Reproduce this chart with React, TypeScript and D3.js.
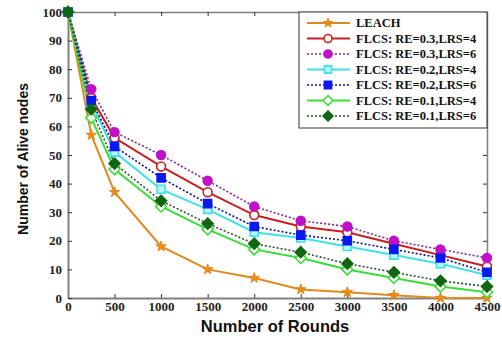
import { useEffect, useRef } from "react";
import * as d3 from "d3";

const rounds = [0, 250, 500, 1000, 1500, 2000, 2500, 3000, 3500, 4000, 4500];
const leach = [100, 57, 37, 18, 10, 7, 3, 2, 1, 0, 0];
const re3lrs4 = [100, 70, 56, 46, 37, 29, 25, 23, 19, 15, 11];
const re3lrs6 = [100, 73, 58, 50, 41, 32, 27, 25, 20, 17, 14];
const re2lrs4 = [100, 68, 51, 38, 31, 23, 21, 18, 15, 12, 8];
const re2lrs6 = [100, 69, 53, 42, 33, 25, 22, 20, 17, 14, 9];
const re1lrs4 = [100, 63, 45, 32, 24, 17, 14, 10, 7, 4, 2];
const re1lrs6 = [100, 66, 47, 34, 26, 19, 16, 12, 9, 6, 4];
const xTicks = [0, 500, 1000, 1500, 2000, 2500, 3000, 3500, 4000, 4500];
const yTicks = [0, 10, 20, 30, 40, 50, 60, 70, 80, 90, 100];

type Series = {
  name: string;
  values: number[];
  line: string;
  dash: string | null;
  marker: "star" | "circle" | "square" | "diamond";
  fill: string;
  stroke: string;
};

const series: Series[] = [
  { name: "LEACH", values: leach, line: "#DE8A1F", dash: null, marker: "star", fill: "#F08A10", stroke: "#DE8A1F" },
  { name: "FLCS: RE=0.3,LRS=4", values: re3lrs4, line: "#C81E1E", dash: null, marker: "circle", fill: "#fff", stroke: "#C81E1E" },
  { name: "FLCS: RE=0.3,LRS=6", values: re3lrs6, line: "#7A2A9A", dash: "2,2", marker: "circle", fill: "#C010C8", stroke: "#C010C8" },
  { name: "FLCS: RE=0.2,LRS=4", values: re2lrs4, line: "#40E0E8", dash: null, marker: "square", fill: "#B8F4F8", stroke: "#40E0E8" },
  { name: "FLCS: RE=0.2,LRS=6", values: re2lrs6, line: "#101080", dash: "2,2", marker: "square", fill: "#0818F0", stroke: "#0818F0" },
  { name: "FLCS: RE=0.1,LRS=4", values: re1lrs4, line: "#3ADC3A", dash: null, marker: "diamond", fill: "#fff", stroke: "#3ADC3A" },
  { name: "FLCS: RE=0.1,LRS=6", values: re1lrs6, line: "#305030", dash: "2,2", marker: "diamond", fill: "#116611", stroke: "#116611" },
];

// diamond as a rotated square so it keeps equal width and height
const diamondPath = (r: number) => `M0,${-r}L${r},0L0,${r}L${-r},0Z`;

const markerPath = (m: Series["marker"], k = 1) => {
  if (m === "star") return d3.symbol(d3.symbolStar, 34 * k * k)()!;
  if (m === "circle") return d3.symbol(d3.symbolCircle, 62 * k * k)()!;
  if (m === "square") return d3.symbol(d3.symbolSquare, 64 * k * k)()!;
  return diamondPath(5.5 * k);
};

const App = () => {
  const ref = useRef<SVGSVGElement>(null);

  useEffect(() => {
    const width = 502;
    const height = 339;
    const left = 68, right = 487, top = 12, bottom = 298;

    const svg = d3.select(ref.current)
      .attr("width", width)
      .attr("height", height);
    svg.selectAll("*").remove();

    svg.append("rect").attr("width", width).attr("height", height).attr("fill", "#fff");

    const x = d3.scaleLinear().domain([0, 4500]).range([left, right]);
    const y = d3.scaleLinear().domain([0, 100]).range([bottom, top]);

    const axisColor = "#808080";
    const serif = "Liberation Serif, Times New Roman, serif";
    const sans = "Liberation Sans, Arial, sans-serif";

    // bottom axis
    const gx = svg.append("g").attr("transform", `translate(0,${bottom})`)
      .call(d3.axisBottom(x).tickValues(xTicks).tickFormat(d3.format("d")).tickSize(-4).tickPadding(4).tickSizeOuter(0));
    gx.select(".domain").attr("stroke", axisColor).attr("stroke-width", 2);
    gx.selectAll(".tick line").attr("stroke", "#333");
    gx.selectAll("text")
      .attr("font-family", serif)
      .attr("font-weight", "bold").attr("font-size", 13).attr("fill", "#222");

    // left axis
    const gy = svg.append("g").attr("transform", `translate(${left},0)`)
      .call(d3.axisLeft(y).tickValues(yTicks).tickFormat(d3.format("d")).tickSize(-4).tickPadding(6).tickSizeOuter(0));
    gy.select(".domain").attr("stroke", axisColor).attr("stroke-width", 2);
    gy.selectAll(".tick line").attr("stroke", "#333");
    gy.selectAll("text")
      .attr("font-family", serif)
      .attr("font-weight", "bold").attr("font-size", 13).attr("fill", "#222");

    // top axis
    const gt = svg.append("g").attr("transform", `translate(0,${top})`)
      .call(d3.axisTop(x).tickValues(xTicks).tickSize(-4).tickSizeOuter(0).tickFormat(() => ""));
    gt.select(".domain").attr("stroke", axisColor).attr("stroke-width", 1.5);
    gt.selectAll(".tick line").attr("stroke", "#333");

    // right axis
    const gr = svg.append("g").attr("transform", `translate(${right},0)`)
      .call(d3.axisRight(y).tickValues(yTicks).tickSize(-4).tickSizeOuter(0).tickFormat(() => ""));
    gr.select(".domain").attr("stroke", axisColor).attr("stroke-width", 1.5);
    gr.selectAll(".tick line").attr("stroke", "#333");

    const line = d3.line<number>()
      .x((_, i) => x(rounds[i]))
      .y((d) => y(d));

    series.forEach((s) => {
      svg.append("path")
        .datum(s.values)
        .attr("d", line)
        .attr("fill", "none")
        .attr("stroke", s.line)
        .attr("stroke-width", s.dash ? 1.6 : 2)
        .attr("stroke-dasharray", s.dash);
    });

    series.forEach((s) => {
      svg.append("g")
        .selectAll("path")
        .data(s.values)
        .join("path")
        .attr("transform", (d, i) => `translate(${x(rounds[i])},${y(d)})`)
        .attr("d", markerPath(s.marker))
        .attr("fill", s.fill)
        .attr("stroke", s.stroke)
        .attr("stroke-width", s.marker === "star" ? 1 : 1.6);
    });

    // legend
    const lx = 299, ly = 12, lw = right - lx, lh = 116;
    svg.append("rect")
      .attr("x", lx).attr("y", ly).attr("width", lw).attr("height", lh)
      .attr("fill", "#fff").attr("stroke", "#333").attr("stroke-width", 1);

    series.forEach((s, i) => {
      const yy = ly + 11 + i * 15.5;
      const g = svg.append("g");
      g.append("line")
        .attr("x1", 307).attr("x2", 350).attr("y1", yy).attr("y2", yy)
        .attr("stroke", s.line).attr("stroke-width", s.dash ? 1.6 : 2)
        .attr("stroke-dasharray", s.dash);
      g.append("path")
        .attr("transform", `translate(328,${yy})`)
        .attr("d", markerPath(s.marker, 0.9))
        .attr("fill", s.fill).attr("stroke", s.stroke)
        .attr("stroke-width", s.marker === "star" ? 1 : 1.6);
      g.append("text")
        .attr("x", 356).attr("y", yy + 4)
        .attr("font-family", serif)
        .attr("font-weight", "bold").attr("font-size", 12.5).attr("fill", "#111")
        .text(s.name);
    });

    // axis titles
    svg.append("text")
      .attr("x", 275).attr("y", 332)
      .attr("text-anchor", "middle")
      .attr("font-family", sans)
      .attr("font-weight", "bold").attr("font-size", 16.5).attr("fill", "#111")
      .text("Number of Rounds");

    svg.append("text")
      .attr("transform", `translate(28,159) rotate(-90)`)
      .attr("text-anchor", "middle")
      .attr("font-family", sans)
      .attr("font-weight", "bold").attr("font-size", 14).attr("fill", "#111")
      .text("Number of Alive nodes");
  }, []);

  return (
    <div style={{ position: "absolute", left: 0, top: 0 }}>
      <svg ref={ref}></svg>
    </div>
  );
};

export default App;
